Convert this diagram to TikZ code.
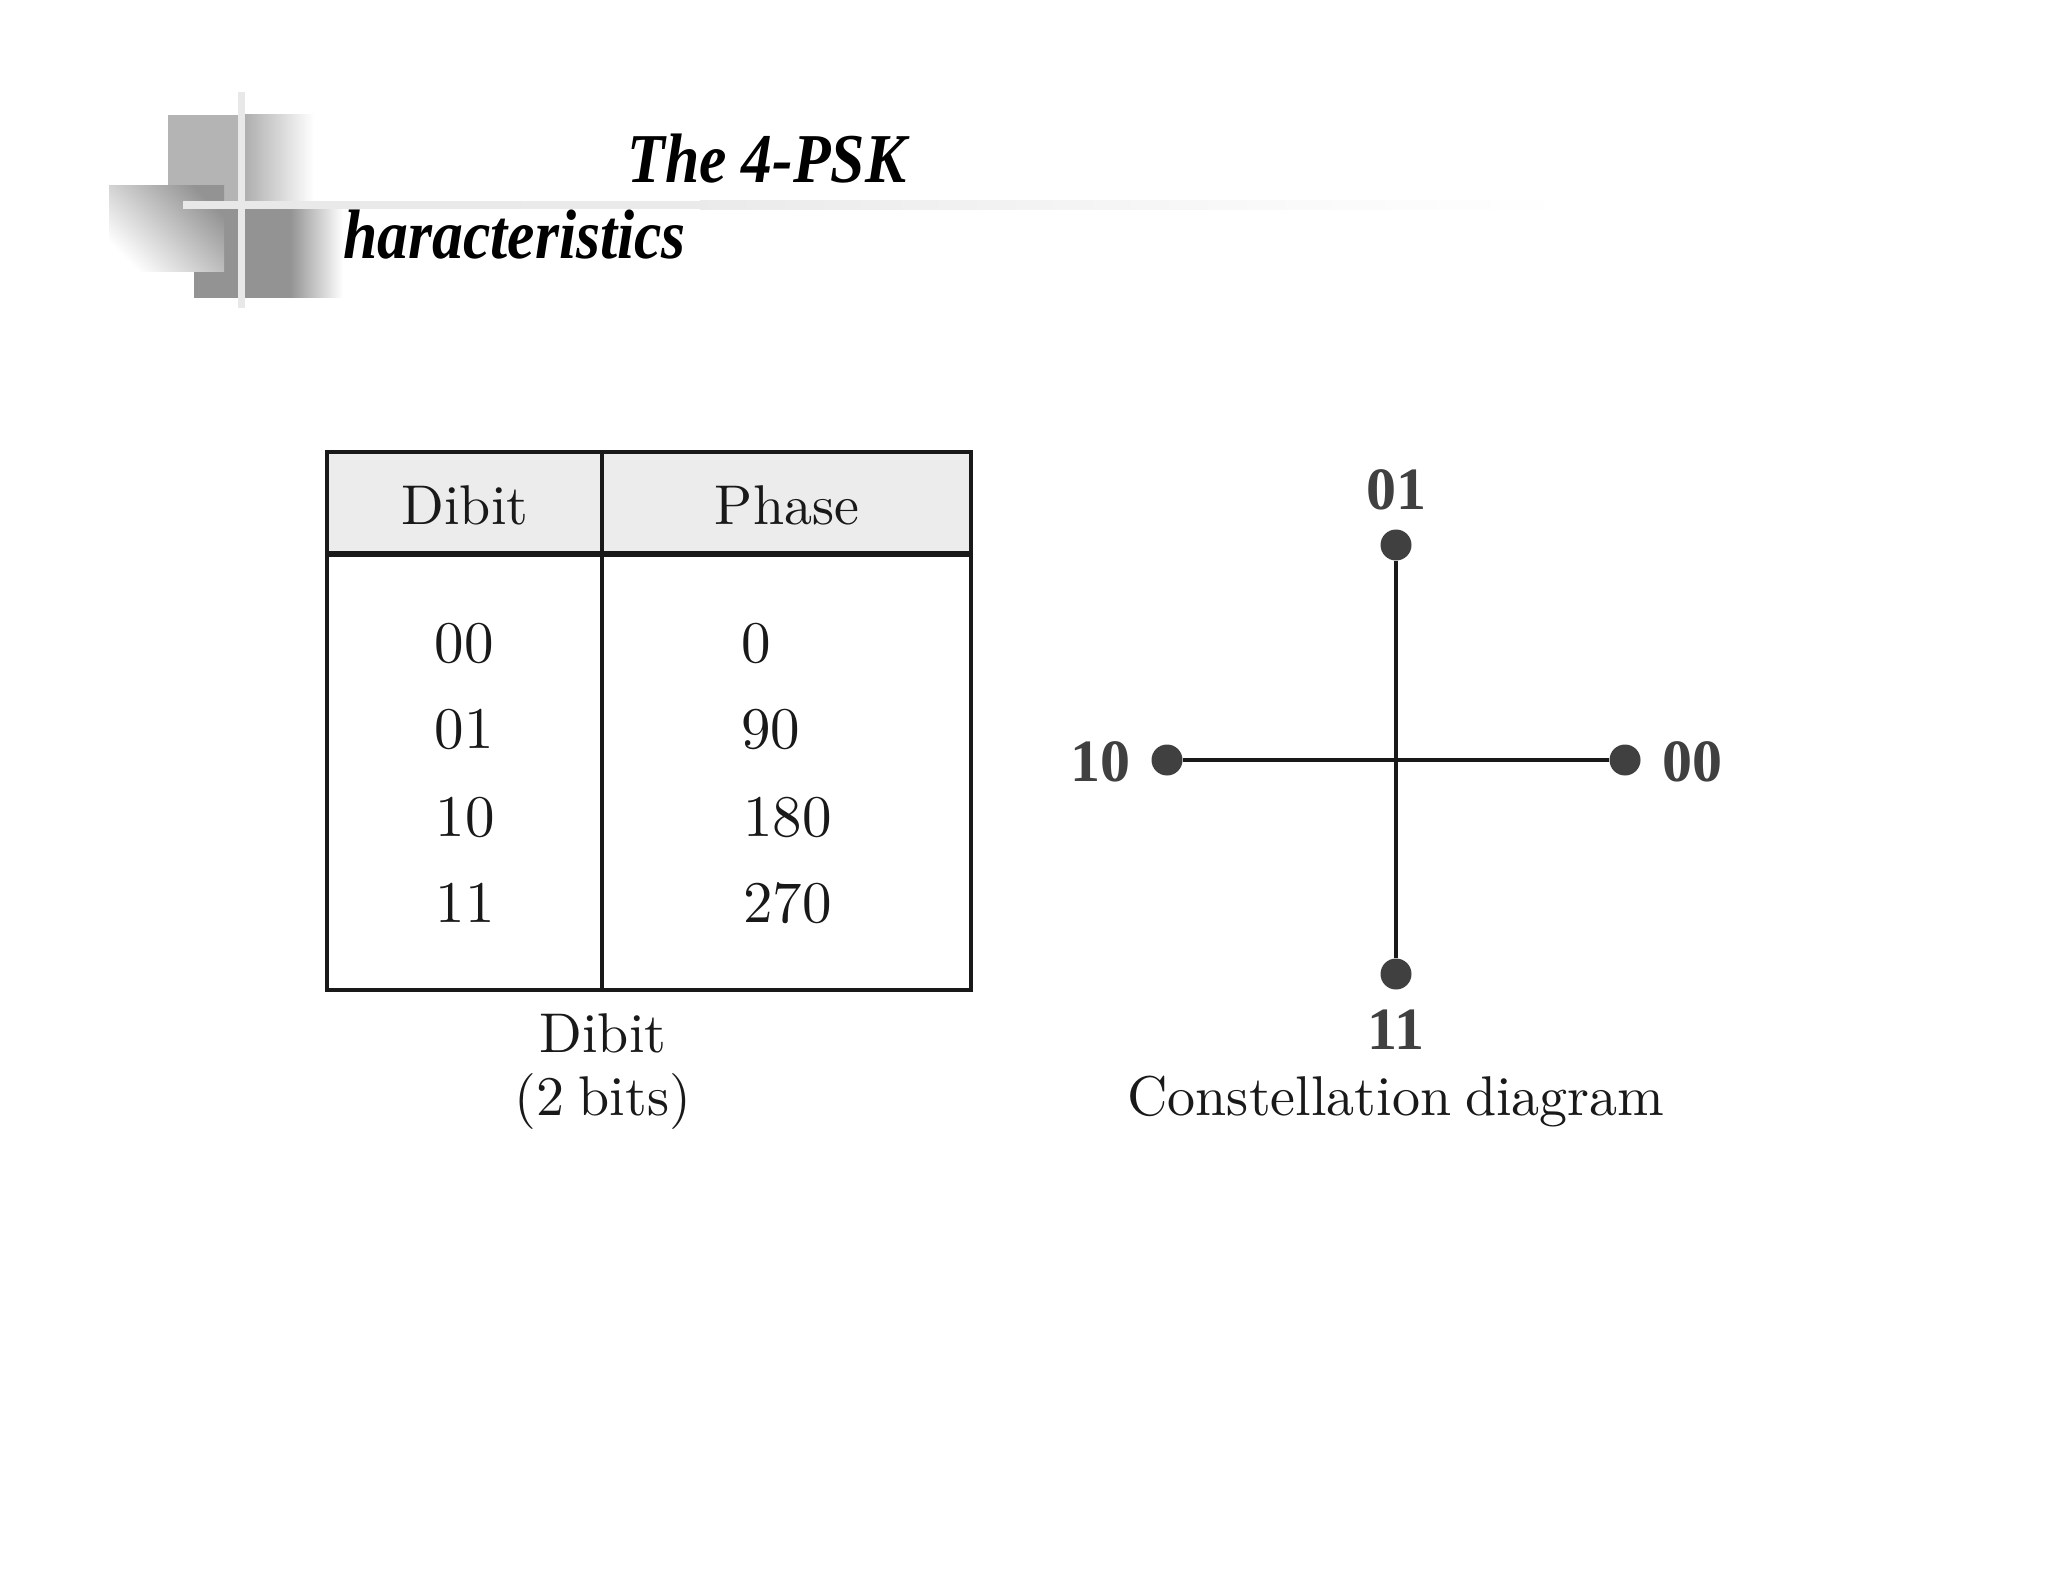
\documentclass[tikz,border=0pt]{standalone}
\usepackage{fontspec}
\newfontfamily\titlefont[FakeStretch=0.88]{Liberation Serif}
\newfontfamily\labelfont{Liberation Serif}
\newfontfamily\bodyfont[Extension=.otf,WordSpace=0.75]{lmroman10-regular}
\definecolor{dotgray}{HTML}{404040}
\definecolor{headfill}{HTML}{ECECEC}
\definecolor{barlight}{HTML}{E8E8E8}
\definecolor{sqtop}{HTML}{B4B4B4}
\definecolor{sqlow}{HTML}{939393}
\tikzset{
  x=0.5pt,y=-0.5pt,
  tabline/.style={line width=2pt,draw=black!90},
  headline/.style={line width=2.6pt,draw=black!90},
  body/.style={font=\bodyfont\fontsize{28}{31}\selectfont,anchor=base,inner sep=0pt,text=black!90},
  digits/.style={font=\bodyfont\fontsize{29.5}{31}\selectfont,anchor=base,inner sep=0pt,text=black!90},
  digitsl/.style={digits,anchor=base west},
  pointlab/.style={font=\labelfont\bfseries\fontsize{30}{32}\selectfont,anchor=base,inner sep=0pt,text=dotgray},
  titletext/.style={font=\titlefont\bfseries\itshape\fontsize{35}{38}\selectfont,anchor=base west,inner sep=0pt,text=black},
  sigdot/.style={circle,fill=dotgray,inner sep=0pt,minimum size=15.5pt},
  axisline/.style={line width=2.3pt,draw=black!90},
}
\begin{document}
\begin{tikzpicture}
\useasboundingbox (0,0) rectangle (2048,1582);
% decoration
\fill[sqtop] (168,115) rectangle (245,201);
\shade[left color=sqtop!97!black,right color=white] (245,115) rectangle (314,201);
\fill[sqlow] (194,209) rectangle (290,298);
\shade[left color=sqlow,right color=white] (290,209) rectangle (343,298);
\begin{scope}
\clip (109,186) rectangle (224,272);
\shade[shading=axis,top color=sqlow,bottom color=white,shading angle=-45] (109,186) rectangle (224,272);
\end{scope}
\shade[left color=barlight,right color=barlight!90!white] (183,202) rectangle (700,209);
\shade[left color=barlight!90!white,right color=black!2] (700,201) rectangle (1300,210);
\shade[left color=black!2,right color=white] (1300,201) rectangle (1570,210);
\fill[barlight] (238,92) rectangle (245,308);
% title
\node[titletext] (t1) at (627,183) {The 4-PSK};
\node[titletext] (t2) at (343,259) {haracteristics};
% table
\fill[headfill] (327,452) rectangle (971,554);
\draw[tabline] (327,452) rectangle (971,990);
\draw[headline] (327,554) -- (971,554);
\draw[tabline] (602,452) -- (602,990);
\node[body] (hd) at (465,525) {Dibit};
\node[body] (hp) at (787,525) {Phase};
\node[digits] (a1) at (464,662) {00};
\node[digits] (a2) at (464,748) {01};
\node[digits] (a3) at (465,836) {10};
\node[digits] (a4) at (465,922) {11};
\node[digitsl] (b1) at (741,662) {0};
\node[digitsl] (b2) at (741,748) {90};
\node[digitsl] (b3) at (743,836) {180};
\node[digitsl] (b4) at (743,922) {270};
\node[body] (c1) at (603,1052) {Dibit};
\node[body] (c2) at (603,1115) {(2 bits)};
% constellation
\node[sigdot] (d01) at (1396,545) {};
\node[sigdot] (d11) at (1396,974) {};
\node[sigdot] (d10) at (1167,760) {};
\node[sigdot] (d00) at (1625,760) {};
\draw[axisline] (d01) -- (d11);
\draw[axisline] (d10) -- (d00);
\node[pointlab] at (1396,510) (l01) {01};
\node[pointlab] at (1396,1049) (l11) {11};
\node[pointlab] at (1100,781) (l10) {10};
\node[pointlab] at (1692,781) (l00) {00};
\node[body] (cap) at (1396,1115) {Constellation diagram};
\end{tikzpicture}
\end{document}
